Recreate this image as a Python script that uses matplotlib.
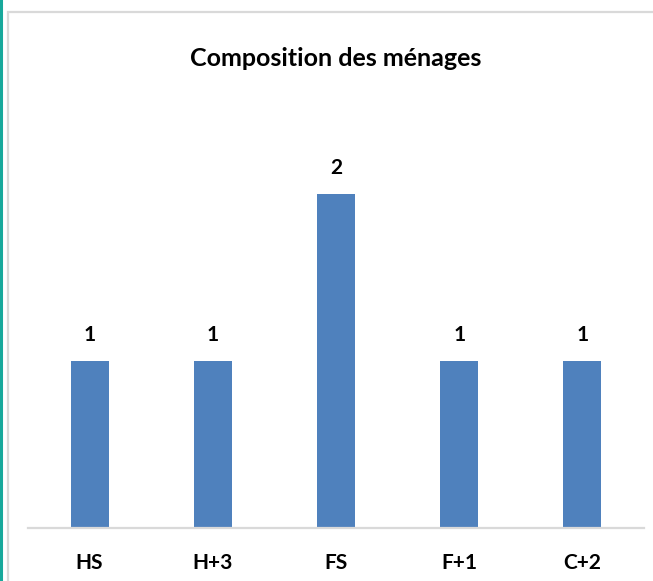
import matplotlib.pyplot as plt
from matplotlib.patches import Rectangle
from matplotlib.lines import Line2D

# Données
categories = ["HS", "H+3", "FS", "F+1", "C+2"]
valeurs = [1, 1, 2, 1, 1]

plt.rcParams['font.family'] = ['Lato', 'DejaVu Sans']

fig = plt.figure(figsize=(6.53, 5.81), dpi=100)

# Cadre gris et trait turquoise à gauche
fig.patches.append(Rectangle((8 / 653, -0.05), 1.0, (581 - 12) / 581 + 0.05,
                             transform=fig.transFigure, fill=False,
                             edgecolor='#d9d9d9', linewidth=1.6))
fig.lines.append(Line2D([1.2 / 653, 1.2 / 653], [0, 1], transform=fig.transFigure,
                        color='#17a89b', linewidth=2.2))

ax = fig.add_axes([28 / 653, 53 / 581, 616 / 653, (528 - 127.2) / 581])
x = range(len(categories))
barres = ax.bar(x, valeurs, width=0.31, color='#4f81bd')

ax.set_xlim(-0.5, len(categories) - 0.5)
ax.set_ylim(0, 2.4)
ax.set_xticks(list(x))
ax.set_xticklabels(categories, fontsize=15, fontweight='bold')
ax.tick_params(axis='x', length=0, pad=18)
ax.set_yticks([])

for s in ['left', 'right', 'top']:
    ax.spines[s].set_visible(False)
ax.spines['bottom'].set_color('#d9d9d9')
ax.spines['bottom'].set_linewidth(1.6)

for b, v in zip(barres, valeurs):
    ax.annotate(str(v), (b.get_x() + b.get_width() / 2, v), xytext=(0, 26),
                textcoords='offset pixels', ha='center', va='center',
                fontsize=15, fontweight='bold')

fig.text(336 / 653, 1 - 58 / 581, "Composition des ménages", ha='center', va='center',
         fontsize=18, fontweight='bold')

fig.savefig("out.png", dpi=100)
